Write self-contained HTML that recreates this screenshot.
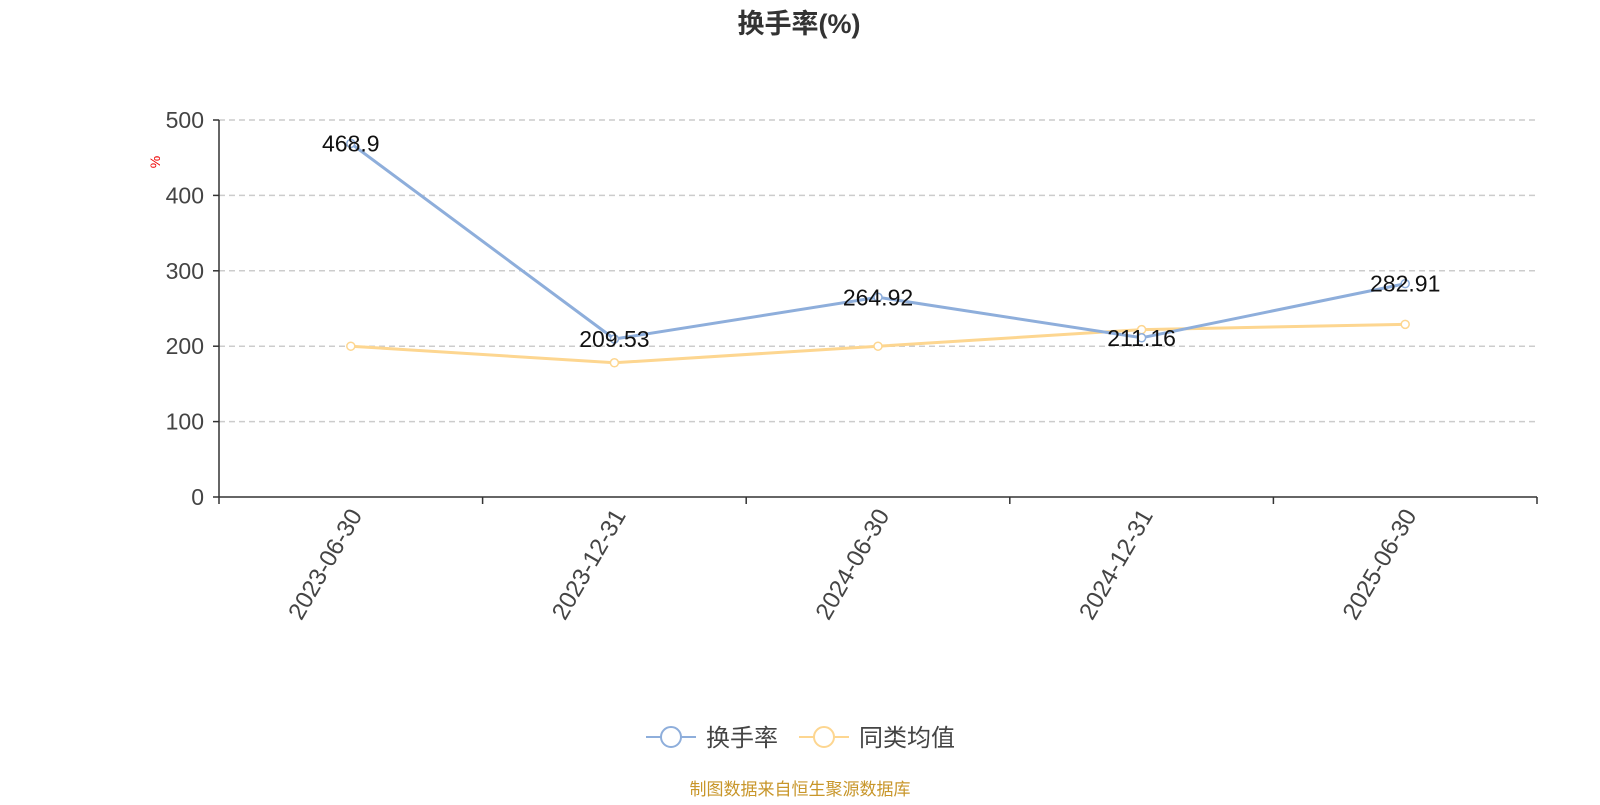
<!DOCTYPE html>
<html><head><meta charset="utf-8"><style>
body{margin:0;background:#fff;width:1600px;height:800px;overflow:hidden;font-family:"Liberation Sans","Noto Sans CJK SC",sans-serif;}
</style></head><body>
<svg id="chart" width="1600" height="800" xmlns="http://www.w3.org/2000/svg" font-family="Liberation Sans, Noto Sans CJK SC, sans-serif">
<text x="799" y="33" text-anchor="middle" font-size="27" font-weight="bold" fill="#333">换手率(%)</text>
<text x="160" y="162" font-size="14" fill="#e00" transform="rotate(-90 160 162)" text-anchor="middle">%</text>
<g id="grid"></g><g id="axes"></g><g id="series"></g>
<g>
<g>
<line x1="646" y1="737" x2="696" y2="737" stroke="#8eaedb" stroke-width="2"/>
<circle cx="671" cy="737" r="10" fill="#fff" stroke="#8eaedb" stroke-width="2"/>
<text x="706" y="746" font-size="24" fill="#444">换手率</text></g>
<g>
<line x1="799" y1="737" x2="849" y2="737" stroke="#fdd690" stroke-width="2"/>
<circle cx="824" cy="737" r="10" fill="#fff" stroke="#fdd690" stroke-width="2"/>
<text x="859" y="746" font-size="24" fill="#444">同类均值</text></g>
</g>
<text x="800" y="795" text-anchor="middle" font-size="17" fill="#c8962a">制图数据来自恒生聚源数据库</text>
</svg>
<script>
const categories=["2023-06-30","2023-12-31","2024-06-30","2024-12-31","2025-06-30"];
const turnover=[468.9,209.53,264.92,211.16,282.91];
const peerAvg=[200,178,200,222,229];
const yTicks=[0,100,200,300,400,500];
const NS="http://www.w3.org/2000/svg";
const x0=219,x1=1537,y0=497,y1=120,yMax=500;
const bw=(x1-x0)/categories.length;
const xS=i=>x0+bw*(i+0.5);
const yS=v=>y0-(v/yMax)*(y0-y1);
function mk(tag,attrs,parent){const e=document.createElementNS(NS,tag);for(const k in attrs)e.setAttribute(k,attrs[k]);parent.appendChild(e);return e;}
const grid=document.getElementById('grid'),axes=document.getElementById('axes'),ser=document.getElementById('series');
yTicks.forEach(t=>{
  if(t>0){const g=mk('line',{x1:x0,x2:x1,y1:yS(t),y2:yS(t),stroke:'#ccc','stroke-width':1.5,'stroke-dasharray':'6,4'},grid);
  
  }
  const tk=mk('line',{x1:x0-6,x2:x0,y1:yS(t),y2:yS(t),stroke:'#333','stroke-width':1.5},axes);
  
  
  const lb=mk('text',{x:x0-15,y:yS(t)+8,'text-anchor':'end','font-size':23,fill:'#444'},axes);
  
  
  lb.textContent=t;
});
const ya=mk('line',{x1:x0,x2:x0,y1:y1,y2:y0,stroke:'#333','stroke-width':1.5},axes);


const xa=mk('line',{x1:x0,x2:x1,y1:y0,y2:y0,stroke:'#333','stroke-width':1.5},axes);


for(let i=0;i<=categories.length;i++){
  const t=mk('line',{x1:x0+bw*i,x2:x0+bw*i,y1:y0,y2:y0+7,stroke:'#333','stroke-width':1.5},axes);
  
  
}
categories.forEach((c,i)=>{
  const x=xS(i)+12,y=y0+18;
  const l=mk('text',{x:x,y:y,'text-anchor':'end','font-size':24,fill:'#444',transform:`rotate(-60 ${x} ${y})`},axes);
  
  
  l.textContent=c;
});
function series(vals,color,name){
  const p=mk('polyline',{points:vals.map((v,i)=>xS(i)+','+yS(v)).join(' '),fill:'none',stroke:color,'stroke-width':3},ser);
  
  
  vals.forEach((v,i)=>{
    const c=mk('circle',{cx:xS(i),cy:yS(v),r:4,fill:'#fff',stroke:color,'stroke-width':1.5},ser);
    
    
  });
}
series(peerAvg,'#fdd690','peer-average');
series(turnover,'#8eaedb','turnover');
turnover.forEach((v,i)=>{
  const t=mk('text',{x:xS(i),y:yS(v)+8,'text-anchor':'middle','font-size':23,fill:'#111'},ser);
  
  
  t.textContent=v;
});
</script>
</body></html>
